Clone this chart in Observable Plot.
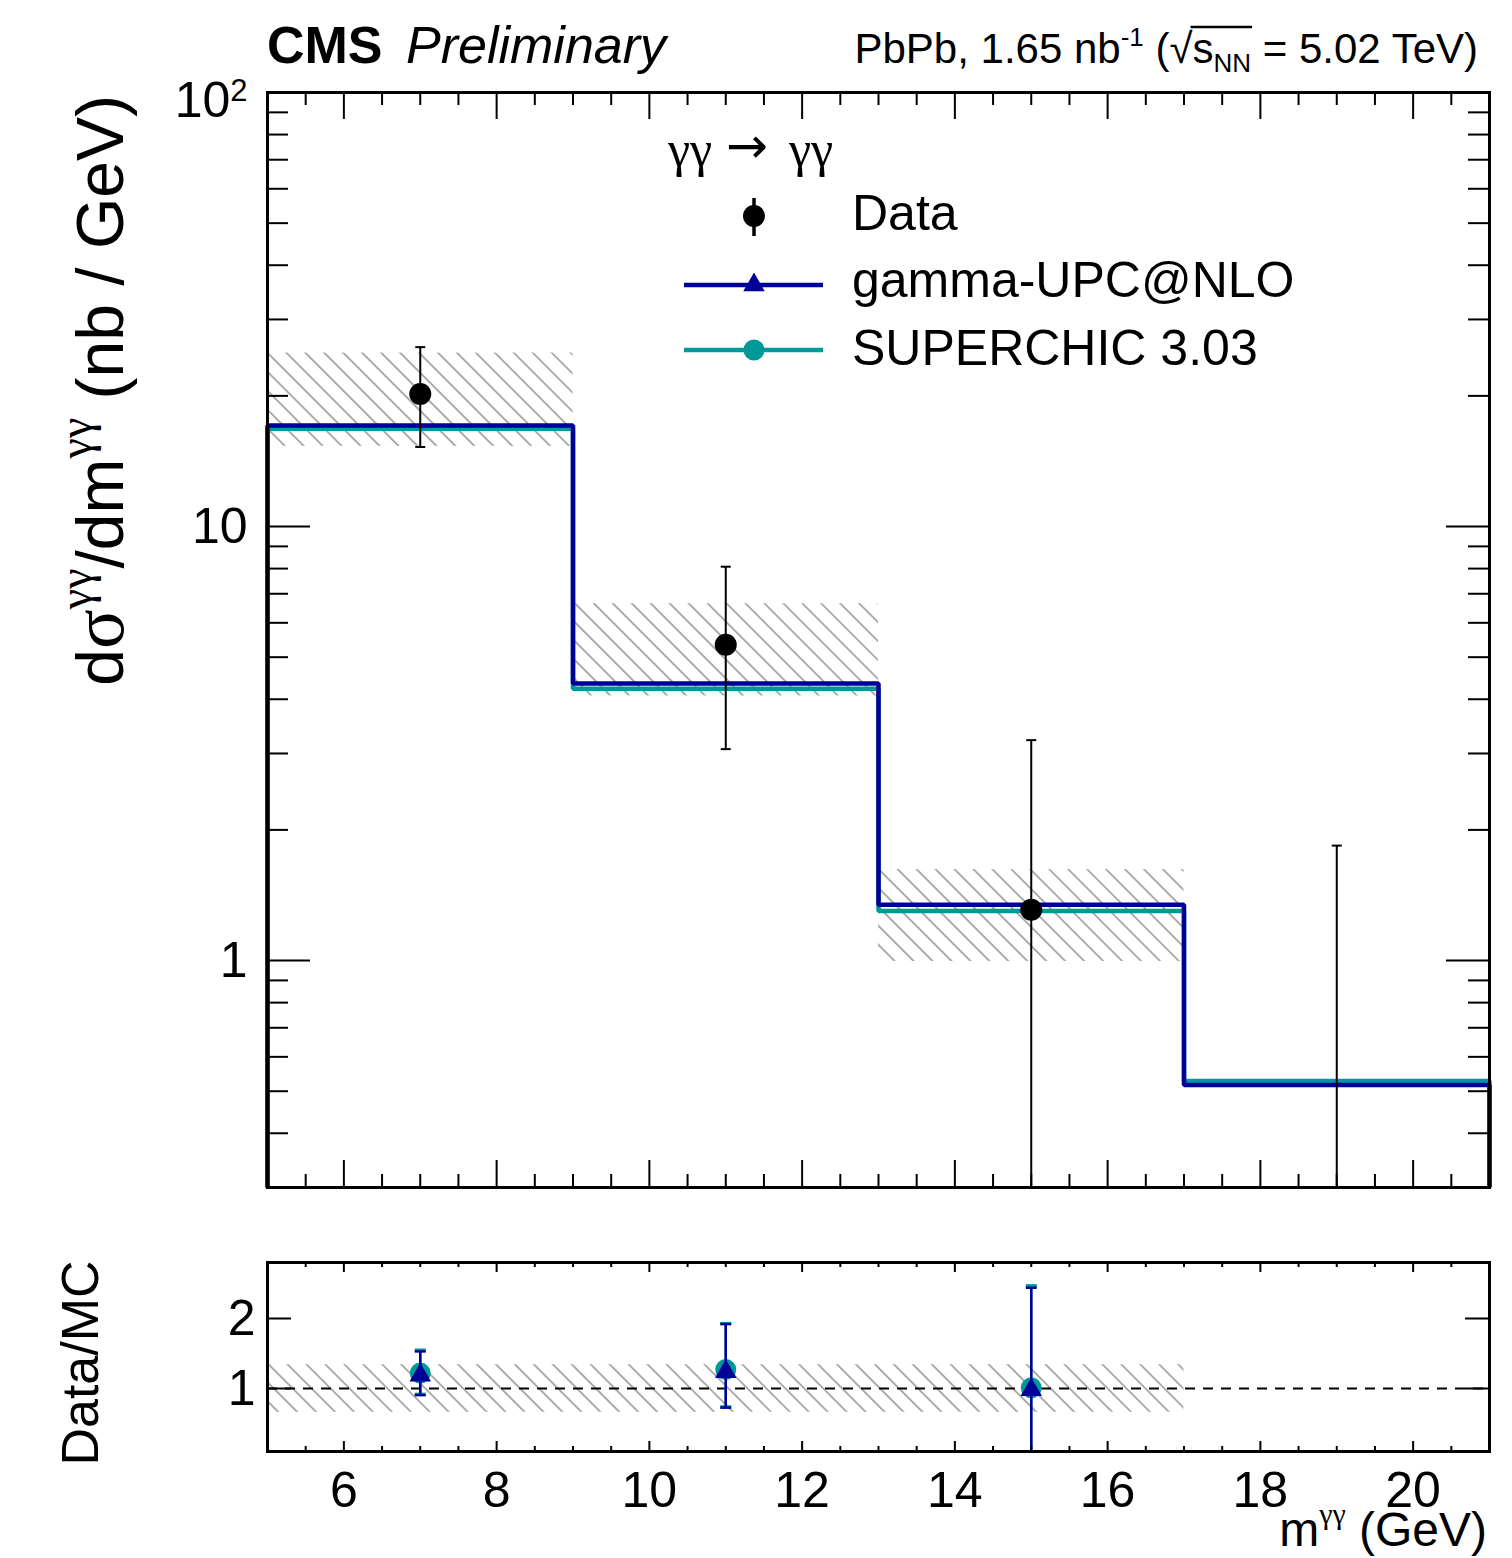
<!DOCTYPE html>
<html>
<head>
<meta charset="utf-8">
<script src="https://cdn.jsdelivr.net/npm/d3@7"></script>
<script src="https://cdn.jsdelivr.net/npm/@observablehq/plot@0.6"></script>
<style>
  body { margin: 0; background: #fff; }
  #wrap { position: relative; width: 1512px; height: 1558px; background: #fff; overflow: hidden; }
  #wrap svg { position: absolute; left: 0; overflow: visible; }
</style>
</head>
<body>
<div id="wrap"></div>
<script>
// ---------------- data ----------------
const binEdges = [5, 9, 13, 17, 21];
const binCenters = [7, 11, 15, 19];

const dataXsec = [20.2, 5.34, 1.31, 0];
const dataErrUp = [25.9, 8.08, 3.22, 1.84];
const dataErrDown = [15.25, 3.07, 0, 0];

const gammaUPC = [17.1, 4.35, 1.345, 0.517];
const superchic = [16.8, 4.23, 1.30, 0.528];

const systLo = [15.3, 4.07, 0.995];
const systHi = [25.1, 6.64, 1.62];

const ratioUPC = [1.19, 1.24, 0.98];
const ratioUPCUp = [1.53, 1.92, 2.44];
const ratioUPCDown = [0.905, 0.726, 0];
const ratioSC = [1.22, 1.27, 1.01];
const ratioSCUp = [1.55, 1.93, 2.47];
const ratioSCDown = [0.92, 0.74, 0];
const ratioSystLo = [0.66, 0.66, 0.66];
const ratioSystHi = [1.34, 1.34, 1.34];

const xTickLabels = [6, 8, 10, 12, 14, 16, 18, 20];
const yTickLabels = [1, 10, 100];
const ratioTickLabels = [1, 2];

const legendLabels = ["Data", "gamma-UPC@NLO", "SUPERCHIC 3.03"];

// ---------------- styling / layout ----------------
const NAVY = "#000099", TEAL = "#009999";
const FONT = '"Liberation Sans", Arial, Helvetica, sans-serif';
const SERIF = '"Liberation Serif", "DejaVu Serif", "Times New Roman", serif';
const W = 1512;
const X_DOMAIN = [5, 21];
const Y_MIN = 0.3, Y_MAX = 100;
const R_MIN = 0.1, R_MAX = 2.8;

const mainH = 1200, mL = 267, mR = 23, mT = 92, mB = 13;
const fW = W - mL - mR, fH = mainH - mT - mB;
const ratioH = 358, rT = 62, rB = 107;
const rfH = ratioH - rT - rB;

const capSymbol = {
  draw(ctx, size) { const r = Math.sqrt(size / Math.PI); ctx.moveTo(-r, 0); ctx.lineTo(r, 0); }
};

const xMinor = d3.range(5.5, 21, 0.5).filter(v => v % 2 !== 0);
const yMinorMain = [];
for (const dec of [0.1, 1, 10]) for (let k = 2; k <= 9; k++) { const v = k * dec; if (v >= Y_MIN && v <= Y_MAX) yMinorMain.push(+v.toPrecision(3)); }

function frameTicks(o) {
  const s = {stroke: "black", strokeWidth: 2};
  const m = [];
  for (const [vals, len] of [[o.xMajor, o.xMajLen], [o.xMinor, o.xMinLen]]) {
    if (!vals || !vals.length) continue;
    m.push(Plot.tickX(vals, {x: d => d, insetTop: o.fh - len, ...s}));
    m.push(Plot.tickX(vals, {x: d => d, insetBottom: o.fh - len, ...s}));
  }
  for (const [vals, len] of [[o.yMajor, o.yMajLen], [o.yMinor, o.yMinLen]]) {
    if (!vals || !vals.length) continue;
    m.push(Plot.tickY(vals, {y: d => d, insetRight: o.fw - len, ...s}));
    m.push(Plot.tickY(vals, {y: d => d, insetLeft: o.fw - len, ...s}));
  }
  return m;
}

function addHatch(svg, id) {
  const defs = d3.select(svg).insert("defs", ":first-child");
  const p = defs.append("pattern").attr("id", id)
    .attr("patternUnits", "userSpaceOnUse")
    .attr("width", 13.4).attr("height", 13.4)
    .attr("patternTransform", "rotate(-45)");
  p.append("line").attr("x1", 6.7).attr("y1", -1).attr("x2", 6.7).attr("y2", 14.4)
    .attr("stroke", "#5a5a5a").attr("stroke-width", 1);
}

// ---------------- rows ----------------
const mainRows = binCenters.map((x, i) => ({x, v: dataXsec[i], hi: dataErrUp[i], lo: dataErrDown[i]}));
const systRows = systLo.map((lo, i) => ({x1: binEdges[i], x2: binEdges[i + 1], lo, hi: systHi[i]}));
function steps(vals) {
  const n = vals.length;
  return [{x: binEdges[0], y: Y_MIN},
    ...vals.map((v, i) => ({x: binEdges[i], y: v})),
    {x: binEdges[n], y: vals[n - 1]},
    {x: binEdges[n], y: Y_MIN}];
}
const ratioRowsUPC = ratioUPC.map((v, i) => ({x: binCenters[i], v, hi: ratioUPCUp[i], lo: ratioUPCDown[i]}));
const ratioRowsSC = ratioSC.map((v, i) => ({x: binCenters[i], v, hi: ratioSCUp[i], lo: ratioSCDown[i]}));
const ratioSystRows = ratioSystLo.map((lo, i) => ({x1: binEdges[i], x2: binEdges[i + 1], lo, hi: ratioSystHi[i]}));

// ---------------- main panel ----------------
const main = Plot.plot({
  width: W, height: mainH,
  marginLeft: mL, marginRight: mR, marginTop: mT, marginBottom: mB,
  style: {fontFamily: FONT, background: "white", color: "black", top: "0px"},
  x: {type: "linear", domain: X_DOMAIN, axis: null},
  y: {type: "log", domain: [Y_MIN, Y_MAX], axis: null},
  marks: [
    Plot.rect(systRows, {x1: "x1", x2: "x2", y1: "lo", y2: "hi", fill: "url(#hatchMain)"}),
    Plot.line(steps(superchic), {x: "x", y: "y", curve: "step-after", stroke: TEAL, strokeWidth: 4.5, strokeLinejoin: "miter", strokeLinecap: "butt"}),
    Plot.line(steps(gammaUPC), {x: "x", y: "y", curve: "step-after", stroke: NAVY, strokeWidth: 4.5, strokeLinejoin: "miter", strokeLinecap: "butt"}),
    Plot.ruleX(mainRows, {x: "x", y1: d => Math.max(d.lo, Y_MIN), y2: "hi", stroke: "black", strokeWidth: 2}),
    Plot.dot(mainRows, {x: "x", y: "hi", symbol: capSymbol, r: 5, fill: "none", stroke: "black", strokeWidth: 2}),
    Plot.dot(mainRows.filter(d => d.lo > Y_MIN), {x: "x", y: "lo", symbol: capSymbol, r: 5, fill: "none", stroke: "black", strokeWidth: 2}),
    Plot.dot(mainRows.filter(d => d.v > 0), {x: "x", y: "v", r: 11, fill: "black", stroke: "none"}),
    ...frameTicks({xMajor: xTickLabels, xMinor, xMajLen: 27, xMinLen: 13,
                   yMajor: yTickLabels, yMinor: yMinorMain, yMajLen: 43, yMinLen: 21, fw: fW, fh: fH}),
    Plot.frame({stroke: "black", strokeWidth: 3}),
    Plot.axisY(yTickLabels, {tickSize: 0, tickPadding: 20, fontSize: 50, label: null,
      tickFormat: d => d === 100 ? "10^2" : String(d)})
  ]
});
addHatch(main, "hatchMain");

// ---------------- ratio panel ----------------
const ratio = Plot.plot({
  width: W, height: ratioH,
  marginLeft: mL, marginRight: mR, marginTop: rT, marginBottom: rB,
  style: {fontFamily: FONT, background: "white", color: "black", top: mainH + "px"},
  x: {type: "linear", domain: X_DOMAIN},
  y: {type: "linear", domain: [R_MIN, R_MAX]},
  marks: [
    Plot.rect(ratioSystRows, {x1: "x1", x2: "x2", y1: "lo", y2: "hi", fill: "url(#hatchRatio)"}),
    Plot.ruleY([1], {stroke: "black", strokeWidth: 2, strokeDasharray: "10,8"}),
    Plot.ruleX(ratioRowsSC, {x: "x", y1: "lo", y2: "hi", stroke: TEAL, strokeWidth: 2.5, clip: true}),
    Plot.dot(ratioRowsSC, {x: "x", y: "hi", symbol: capSymbol, r: 5.5, fill: "none", stroke: TEAL, strokeWidth: 3, clip: true}),
    Plot.dot(ratioRowsSC.filter(d => d.lo > R_MIN), {x: "x", y: "lo", symbol: capSymbol, r: 5.5, fill: "none", stroke: TEAL, strokeWidth: 3, clip: true}),
    Plot.dot(ratioRowsSC, {x: "x", y: "v", r: 10.5, fill: TEAL, stroke: "none"}),
    Plot.ruleX(ratioRowsUPC, {x: "x", y1: "lo", y2: "hi", stroke: NAVY, strokeWidth: 2.5, clip: true}),
    Plot.dot(ratioRowsUPC, {x: "x", y: "hi", symbol: capSymbol, r: 5.5, fill: "none", stroke: NAVY, strokeWidth: 2.5, clip: true}),
    Plot.dot(ratioRowsUPC.filter(d => d.lo > R_MIN), {x: "x", y: "lo", symbol: capSymbol, r: 5.5, fill: "none", stroke: NAVY, strokeWidth: 2.5, clip: true}),
    Plot.dot(ratioRowsUPC, {x: "x", y: "v", symbol: "triangle", r: 8, fill: NAVY, stroke: "none"}),
    ...frameTicks({xMajor: xTickLabels, xMinor, xMajLen: 10, xMinLen: 5,
                   yMajor: ratioTickLabels, yMinor: [], yMajLen: 24, yMinLen: 12, fw: fW, fh: rfH}),
    Plot.frame({stroke: "black", strokeWidth: 3}),
    Plot.axisY(ratioTickLabels, {tickSize: 0, tickPadding: 12, fontSize: 50, label: null, tickFormat: d => String(d)}),
    Plot.axisX(xTickLabels, {anchor: "bottom", tickSize: 0, tickPadding: 20, fontSize: 50, label: null, tickFormat: d => String(d)})
  ]
});
addHatch(ratio, "hatchRatio");

const wrap = document.getElementById("wrap");
wrap.appendChild(main);
wrap.appendChild(ratio);

// ---------------- 10^2 superscript ----------------
d3.select(main).selectAll("text").each(function () {
  if (this.textContent === "10^2") {
    const t = d3.select(this);
    t.text("10");
    t.append("tspan").attr("dy", "-0.5em").attr("font-size", "0.62em").text("2");
    t.attr("transform", (t.attr("transform") || "") + " translate(0,8)");
  }
});

// ---------------- texts in main svg ----------------
const ms = d3.select(main);
ms.append("text").attr("x", 267).attr("y", 63).attr("text-anchor", "start").attr("font-family", FONT).attr("font-size", 52)
  .attr("font-weight", "bold").attr("fill", "black").text("CMS");
ms.append("text").attr("x", 406).attr("y", 63).attr("text-anchor", "start").attr("font-family", FONT).attr("font-size", 52)
  .attr("font-style", "italic").attr("fill", "black").text("Preliminary");

const lumi = ms.append("text").attr("x", 1478).attr("y", 63).attr("text-anchor", "end")
  .attr("font-family", FONT).attr("font-size", 42).attr("fill", "black");
lumi.append("tspan").text("PbPb, 1.65 nb");
lumi.append("tspan").attr("font-size", 26).attr("dy", -17).text("-1");
lumi.append("tspan").attr("dy", 17).text(" (\u221As");
lumi.append("tspan").attr("font-size", 26).attr("dy", 9).text("NN");
lumi.append("tspan").attr("dy", -9).text(" = 5.02 TeV)");
try {
  const node = lumi.node();
  const e1 = node.getExtentOfChar(17);
  const e2 = node.getExtentOfChar(20);
  ms.append("line").attr("x1", e1.x + e1.width - 2).attr("x2", e2.x + e2.width + 1)
    .attr("y1", 27).attr("y2", 27).attr("stroke", "black").attr("stroke-width", 2.5);
} catch (e) {}

// y title
const yt = ms.append("text").attr("transform", "translate(123,95) rotate(-90)")
  .attr("text-anchor", "end").attr("font-family", FONT).attr("font-size", 66).attr("fill", "black");
yt.append("tspan").text("d");
yt.append("tspan").attr("font-family", SERIF).attr("font-size", 74).text("\u03C3");
yt.append("tspan").attr("font-family", SERIF).attr("font-size", 46).attr("dy", -32).text("\u03B3\u03B3");
yt.append("tspan").attr("dy", 32).text("/dm");
yt.append("tspan").attr("font-family", SERIF).attr("font-size", 46).attr("dy", -32).text("\u03B3\u03B3");
yt.append("tspan").attr("dy", 32).text(" (nb / GeV)");

// legend header
ms.append("text").attr("x", 668).attr("y", 166).attr("text-anchor", "start").attr("font-family", SERIF).attr("font-size", 50)
  .attr("fill", "black").text("\u03B3\u03B3");
ms.append("text").attr("x", 726).attr("y", 163).attr("text-anchor", "start").attr("font-family", '"DejaVu Sans", sans-serif').attr("font-size", 50)
  .attr("fill", "black").text("\u2192");
ms.append("text").attr("x", 789).attr("y", 166).attr("text-anchor", "start").attr("font-family", SERIF).attr("font-size", 50)
  .attr("fill", "black").text("\u03B3\u03B3");
const lg = ms.append("g");
// Data
lg.append("line").attr("x1", 754).attr("x2", 754).attr("y1", 198).attr("y2", 236).attr("stroke", "black").attr("stroke-width", 3.5);
lg.append("circle").attr("cx", 754).attr("cy", 216).attr("r", 11).attr("fill", "black");
// gamma-UPC
lg.append("line").attr("x1", 684).attr("x2", 823).attr("y1", 285).attr("y2", 285).attr("stroke", NAVY).attr("stroke-width", 4.5);
lg.append("path").attr("transform", "translate(754,285)").attr("d", d3.symbol(d3.symbolTriangle, 8 * 8 * Math.PI)()).attr("fill", NAVY);
// superchic
lg.append("line").attr("x1", 684).attr("x2", 823).attr("y1", 350).attr("y2", 350).attr("stroke", TEAL).attr("stroke-width", 4.5);
lg.append("circle").attr("cx", 754).attr("cy", 350).attr("r", 10.5).attr("fill", TEAL);
[[230, legendLabels[0]], [297, legendLabels[1]], [365, legendLabels[2]]].forEach(([y, t]) => {
  lg.append("text").attr("x", 852).attr("y", y).attr("text-anchor", "start").attr("font-family", FONT).attr("font-size", 50).attr("fill", "black").text(t);
});

// ---------------- texts in ratio svg ----------------
const rs = d3.select(ratio);
const xt = rs.append("text").attr("x", 1487).attr("y", 346).attr("text-anchor", "end")
  .attr("font-family", FONT).attr("font-size", 48).attr("fill", "black");
xt.append("tspan").text("m");
xt.append("tspan").attr("font-family", SERIF).attr("font-size", 30).attr("dy", -22).text("\u03B3\u03B3");
xt.append("tspan").attr("dy", 22).text(" (GeV)");

rs.append("text").attr("transform", "translate(98,163) rotate(-90)").attr("text-anchor", "middle")
  .attr("font-family", FONT).attr("font-size", 52).attr("fill", "black").text("Data/MC");
</script>
</body>
</html>
